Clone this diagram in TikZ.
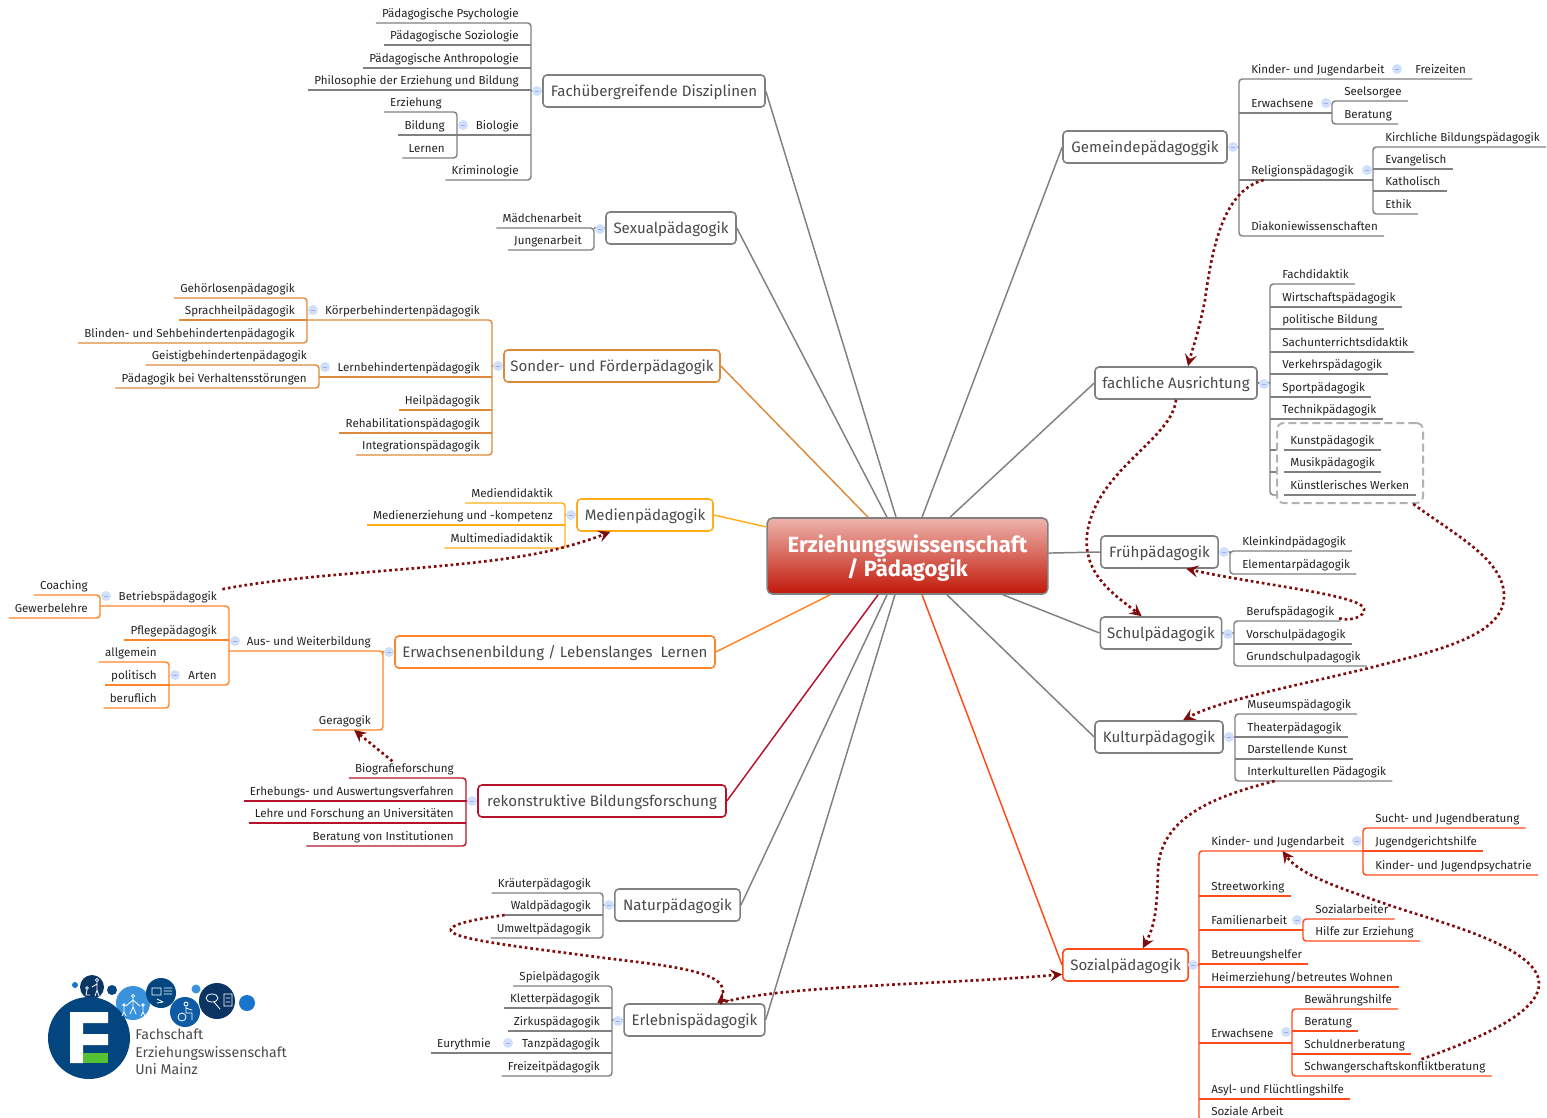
\documentclass[tikz,border=0pt]{standalone}
\usepackage{fontspec}
\setmainfont{Fira Sans}
\usetikzlibrary{arrows.meta}

\definecolor{stem}{HTML}{808080}
\definecolor{sonder}{HTML}{DC8A3C}
\definecolor{medien}{HTML}{FFAE1A}
\definecolor{erwachs}{HTML}{FF8427}
\definecolor{rekon}{HTML}{B5122B}
\definecolor{sozial}{HTML}{FF4A1A}
\definecolor{relat}{HTML}{7F0D0D}
\definecolor{inktopic}{HTML}{4A4A4A}
\definecolor{inkleaf}{HTML}{222222}
\definecolor{foldfill}{HTML}{CFE0FA}
\definecolor{roottop}{HTML}{EDB3AC}
\definecolor{rootbot}{HTML}{C21808}
\definecolor{fdark}{HTML}{03467F}
\definecolor{fnavy}{HTML}{0A3563}
\definecolor{fmid}{HTML}{0F5AA5}
\definecolor{fblue}{HTML}{1874CC}
\definecolor{flight}{HTML}{3B92DC}
\definecolor{fgreen}{HTML}{55C234}

\tikzset{
  topic/.style={draw=#1,rectangle,rounded corners=3pt,line width=1.2pt,fill=white,text=inktopic,
    font=\fontsize{11.3}{13}\selectfont,minimum height=24pt,inner xsep=1pt,text height=10pt,text depth=2.5pt},
  topic/.default=stem,
  lleaf/.style={anchor=south east,text=inkleaf,font=\fontsize{8.7}{10}\selectfont,
    inner xsep=4.5pt,inner ysep=2pt,text height=6.5pt,text depth=1.7pt},
  rleaf/.style={lleaf,anchor=south west},
  twig/.style={draw=#1,line width=1.1pt,rounded corners=2.5pt},
  twig/.default=stem,
  fold/.style={circle,fill=foldfill,minimum size=7.5pt,inner sep=0pt,
    path picture={\draw[blue!35!white,line width=.4pt] ([xshift=-1.6pt]path picture bounding box.center) -- ([xshift=1.6pt]path picture bounding box.center);}},
  limb/.style={draw=#1,line width=1.1pt},
  relation/.style={draw=relat,line width=2pt,dash pattern=on 2pt off 2.2pt,-{Stealth[length=9pt,width=9pt,inset=3.5pt]}},
  icon/.style={draw=white,line width=.6pt,line cap=round}
}

\begin{document}
\begin{tikzpicture}[x=.75pt,y=-.75pt]
\useasboundingbox (0,0) rectangle (1547,1118);

% centre
\node (root) at (907.5,556) [draw=stem,rectangle,rounded corners=4pt,line width=1.2pt,top color=roottop,bottom color=rootbot,
  text=white,font=\fontsize{16.5}{18}\selectfont\bfseries,align=center,minimum width=210.5pt,minimum height=57pt]{\rule{0pt}{16pt}Erziehungswissenschaft\\/ Pädagogik};

% topics, left
\node (fd) at (654,91) [topic,minimum width=166.5pt]{Fachübergreifende Disziplinen};
\node (sx) at (671,228) [topic,minimum width=97.5pt]{Sexualpädagogik};
\node (sf) at (612,366) [topic=sonder,minimum width=162pt]{Sonder- und Förderpädagogik};
\node (md) at (645,515) [topic=medien,minimum width=102pt]{Medienpädagogik};
\node (ew) at (555,652) [topic=erwachs,minimum width=240pt]{Erwachsenenbildung / Lebenslanges\ \ Lernen};
\node (rk) at (602,801) [topic=rekon,minimum width=186pt]{rekonstruktive Bildungsforschung};
\node (np) at (677.5,905) [topic,minimum width=94pt]{Naturpädagogik};
\node (ep) at (694.5,1020) [topic,minimum width=105.5pt]{Erlebnispädagogik};

% topics, right
\node (gp) at (1145,147) [topic,minimum width=123pt]{Gemeindepädagoggik};
\node (fa) at (1176,383) [topic,minimum width=121.5pt]{fachliche Ausrichtung};
\node (fp) at (1159.5,552) [topic,minimum width=88pt]{Frühpädagogik};
\node (sp) at (1161,633) [topic,minimum width=91pt]{Schulpädagogik};
\node (kp) at (1159,737) [topic,minimum width=96pt]{Kulturpädagogik};
\node (sz) at (1125.5,965) [topic=sozial,minimum width=94pt]{Sozialpädagogik};

% branches into the centre
\draw [limb=stem] (fd.east) -- ([xshift=-8.6pt]root.north);
\draw [limb=stem] (sx.east) -- ([xshift=-15.4pt]root.north);
\draw [limb=sonder] (sf.east) -- ([xshift=-29.6pt]root.north);
\draw [limb=medien] (md.east) -- ([yshift=21.8pt]root.west);
\draw [limb=erwachs] (ew.east) -- ([xshift=-58.1pt]root.south);
\draw [limb=rekon] (rk.east) -- ([xshift=-22.1pt]root.south);
\draw [limb=stem] (np.east) -- ([xshift=-15.4pt]root.south);
\draw [limb=stem] (ep.east) -- ([xshift=-9.4pt]root.south);
\draw [limb=stem] (gp.west) -- ([xshift=10.9pt]root.north);
\draw [limb=stem] (fa.west) -- ([xshift=31.9pt]root.north);
\draw [limb=stem] (fp.west) -- ([yshift=2.2pt]root.east);
\draw [limb=stem] (sp.west) -- ([xshift=71.6pt]root.south);
\draw [limb=stem] (kp.west) -- ([xshift=29.6pt]root.south);
\draw [limb=sozial] (sz.west) -- ([xshift=10.9pt]root.south);

% Fachuebergreifende Disziplinen
\coordinate (fdS) at (531,91);
\coordinate (biS) at (457,135);
\node (fd1) at (525,23) [lleaf]{Pädagogische Psychologie};
\node (fd2) at (525,45) [lleaf]{Pädagogische Soziologie};
\node (fd3) at (525,68) [lleaf]{Pädagogische Anthropologie};
\node (fd4) at (525,90) [lleaf]{Philosophie der Erziehung und Bildung};
\node (bi) at (525,135) [lleaf]{Biologie};
\node (fd6) at (525,180) [lleaf]{Kriminologie};
\node (bi1) at (448,112) [lleaf]{Erziehung};
\node (bi2) at (451,135) [lleaf]{Bildung};
\node (bi3) at (451,158) [lleaf]{Lernen};
\draw [twig] (fd1.south west) -- (fd1.south -| fdS) -- (fd6.south -| fdS) -- (fd6.south west);
\foreach \n in {fd2,fd3,fd4} \draw [twig] (\n.south west) -- (\n.south -| fdS);
\draw [twig] (biS) -- (bi.south -| fdS);
\draw [twig] (bi1.south west) -- (bi1.south -| biS) -- (bi3.south -| biS) -- (bi3.south west);
\draw [twig] (bi2.south west) -- (biS);
\draw [twig] (fd.west) -- (fd.west -| fdS);
\node (fdF) at (537,91) [fold]{};
\node (biF) at (463,125) [fold]{};

% Sexualpaedagogik
\coordinate (sxS) at (594,228);
\node (sx1) at (588,228) [lleaf]{Mädchenarbeit};
\node (sx2) at (588,250) [lleaf]{Jungenarbeit};
\draw [twig] (sx1.south west) -- (sx1.south -| sxS) -- (sx2.south -| sxS) -- (sx2.south west);
\draw [twig] (sx.west) -- (sx.west -| sxS);
\node (sxF) at (600,229) [fold]{};

% Sonder- und Foerderpaedagogik
\coordinate (sfS) at (492,366);
\coordinate (kbS) at (307,320);
\coordinate (lbS) at (319,377);
\node (kb) at (486,320) [lleaf]{Körperbehindertenpädagogik};
\node (lb) at (486,377) [lleaf]{Lernbehindertenpädagogik};
\node (sf3) at (486,410) [lleaf]{Heilpädagogik};
\node (sf4) at (486,433) [lleaf]{Rehabilitationspädagogik};
\node (sf5) at (486,455) [lleaf]{Integrationspädagogik};
\node (kb1) at (301,298) [lleaf]{Gehörlosenpädagogik};
\node (kb2) at (301,320) [lleaf]{Sprachheilpädagogik};
\node (kb3) at (301,343) [lleaf]{Blinden- und Sehbehindertenpädagogik};
\node (lb1) at (313,365) [lleaf]{Geistigbehindertenpädagogik};
\node (lb2) at (313,388) [lleaf]{Pädagogik bei Verhaltensstörungen};
\draw [twig=sonder] (kbS) -- (kb.south -| sfS) -- (sf5.south -| sfS) -- (sf5.south west);
\draw [twig=sonder] (lbS) -- (lb.south -| sfS);
\foreach \n in {sf3,sf4} \draw [twig=sonder] (\n.south west) -- (\n.south -| sfS);
\draw [twig=sonder] (kb1.south west) -- (kb1.south -| kbS) -- (kb3.south -| kbS) -- (kb3.south west);
\draw [twig=sonder] (kb2.south west) -- (kbS);
\draw [twig=sonder] (lb1.south west) -- (lb1.south -| lbS) -- (lb2.south -| lbS) -- (lb2.south west);
\draw [twig=sonder] (sf.west) -- (sf.west -| sfS);
\node (sfF) at (498,366) [fold]{};
\node (kbF) at (313,310) [fold]{};
\node (lbF) at (325,367) [fold]{};

% Medienpaedagogik
\coordinate (mdS) at (565,515);
\node (md1) at (559,503) [lleaf]{Mediendidaktik};
\node (md2) at (559,525) [lleaf]{Medienerziehung und -kompetenz};
\node (md3) at (559,548) [lleaf]{Multimediadidaktik};
\draw [twig=medien] (md1.south west) -- (md1.south -| mdS) -- (md3.south -| mdS) -- (md3.south west);
\draw [twig=medien] (md2.south west) -- (md2.south -| mdS);
\draw [twig=medien] (md.west) -- (md.west -| mdS);
\node (mdF) at (571,515) [fold]{};

% Erwachsenenbildung
\coordinate (ewS) at (383,652);
\coordinate (awS) at (229,651);
\coordinate (bpS) at (100,606);
\coordinate (arS) at (169,685);
\node (aw) at (377,651) [lleaf]{Aus- und Weiterbildung};
\node (ge) at (377,730) [lleaf]{Geragogik};
\node (bp) at (223,606) [lleaf]{Betriebspädagogik};
\node (pf) at (223,640) [lleaf]{Pflegepädagogik};
\node (ar) at (223,685) [lleaf]{Arten};
\node (bp1) at (94,595) [lleaf]{Coaching};
\node (bp2) at (94,618) [lleaf]{Gewerbelehre};
\node (ar1) at (163,662) [lleaf]{allgemein};
\node (ar2) at (163,685) [lleaf]{politisch};
\node (ar3) at (163,708) [lleaf]{beruflich};
\draw [twig=erwachs] (awS) -- (aw.south -| ewS) -- (ge.south -| ewS) -- (ge.south west);
\draw [twig=erwachs] (bpS) -- (bp.south -| awS) -- (ar.south -| awS) -- (arS);
\draw [twig=erwachs] (pf.south west) -- (pf.south -| awS);
\draw [twig=erwachs] (bp1.south west) -- (bp1.south -| bpS) -- (bp2.south -| bpS) -- (bp2.south west);
\draw [twig=erwachs] (ar1.south west) -- (ar1.south -| arS) -- (ar3.south -| arS) -- (ar3.south west);
\draw [twig=erwachs] (ar2.south west) -- (arS);
\draw [twig=erwachs] (ew.west) -- (ew.west -| ewS);
\node (ewF) at (389,652) [fold]{};
\node (awF) at (235,641) [fold]{};
\node (bpF) at (106,596) [fold]{};
\node (arF) at (175,675) [fold]{};

% rekonstruktive Bildungsforschung
\coordinate (rkS) at (466,801);
\node (rk1) at (460,778) [lleaf]{Biografieforschung};
\node (rk2) at (460,801) [lleaf]{Erhebungs- und Auswertungsverfahren};
\node (rk3) at (460,823) [lleaf]{Lehre und Forschung an Universitäten};
\node (rk4) at (460,846) [lleaf]{Beratung von Institutionen};
\draw [twig=rekon] (rk1.south west) -- (rk1.south -| rkS) -- (rk4.south -| rkS) -- (rk4.south west);
\foreach \n in {rk2,rk3} \draw [twig=rekon] (\n.south west) -- (\n.south -| rkS);
\draw [twig=rekon] (rk.west) -- (rk.west -| rkS);
\node (rkF) at (472,801) [fold]{};

% Naturpaedagogik
\coordinate (npS) at (603,905);
\node (np1) at (597,893) [lleaf]{Kräuterpädagogik};
\node (np2) at (597,915) [lleaf]{Waldpädagogik};
\node (np3) at (597,938) [lleaf]{Umweltpädagogik};
\draw [twig] (np1.south west) -- (np1.south -| npS) -- (np3.south -| npS) -- (np3.south west);
\draw [twig] (np2.south west) -- (np2.south -| npS);
\draw [twig] (np.west) -- (np.west -| npS);
\node (npF) at (609,905) [fold]{};

% Erlebnispaedagogik
\coordinate (epS) at (612,1020);
\node (ep1) at (606,986) [lleaf]{Spielpädagogik};
\node (ep2) at (606,1008) [lleaf]{Kletterpädagogik};
\node (ep3) at (606,1031) [lleaf]{Zirkuspädagogik};
\node (ep4) at (606,1053) [lleaf]{Tanzpädagogik};
\node (ep5) at (606,1076) [lleaf]{Freizeitpädagogik};
\node (ep6) at (497,1053) [lleaf]{Eurythmie};
\draw [twig] (ep1.south west) -- (ep1.south -| epS) -- (ep5.south -| epS) -- (ep5.south west);
\foreach \n in {ep2,ep3} \draw [twig] (\n.south west) -- (\n.south -| epS);
\draw [twig] (ep6.south west) -- (ep4.south -| epS);
\draw [twig] (ep.west) -- (ep.west -| epS);
\node (epF) at (618,1021) [fold]{};
\node (e4F) at (508,1043) [fold]{};

% Gemeindepaedagoggik
\coordinate (gpS) at (1239,147);
\coordinate (ewaS) at (1332,113);
\coordinate (rpS) at (1373,180);
\node (gp1) at (1245,79) [rleaf]{Kinder- und Jugendarbeit};
\node (gp2) at (1409,79) [rleaf]{Freizeiten};
\node (ewa) at (1245,113) [rleaf]{Erwachsene};
\node (rp) at (1245,180) [rleaf]{Religionspädagogik};
\node (gp5) at (1245,236) [rleaf]{Diakoniewissenschaften};
\node (ewa1) at (1338,101) [rleaf]{Seelsorgee};
\node (ewa2) at (1338,124) [rleaf]{Beratung};
\node (rp1) at (1379,147) [rleaf]{Kirchliche Bildungspädagogik};
\node (rp2) at (1379,169) [rleaf]{Evangelisch};
\node (rp3) at (1379,191) [rleaf]{Katholisch};
\node (rp4) at (1379,214) [rleaf]{Ethik};
\draw [twig] (gp2.south east) -- (gp1.south -| gpS) -- (gp5.south -| gpS) -- (gp5.south east);
\draw [twig] (ewa.south -| gpS) -- (ewaS);
\draw [twig] (rp.south -| gpS) -- (rpS);
\draw [twig] (ewa1.south east) -- (ewa1.south -| ewaS) -- (ewa2.south -| ewaS) -- (ewa2.south east);
\draw [twig] (rp1.south east) -- (rp1.south -| rpS) -- (rp4.south -| rpS) -- (rp4.south east);
\foreach \n in {rp2,rp3} \draw [twig] (\n.south -| rpS) -- (\n.south east);
\draw [twig] (gp.east) -- (gp.east -| gpS);
\node (gpF) at (1233,147) [fold]{};
\node (g1F) at (1397,69) [fold]{};
\node (ewaF) at (1326,103) [fold]{};
\node (rpF) at (1367,170) [fold]{};

% fachliche Ausrichtung
\coordinate (faS) at (1270,383);
\node (fa1) at (1276,284) [rleaf]{Fachdidaktik};
\node (fa2) at (1276,307) [rleaf]{Wirtschaftspädagogik};
\node (fa3) at (1276,329) [rleaf]{politische Bildung};
\node (fa4) at (1276,352) [rleaf]{Sachunterrichtsdidaktik};
\node (fa5) at (1276,374) [rleaf]{Verkehrspädagogik};
\node (fa6) at (1276,397) [rleaf]{Sportpädagogik};
\node (fa7) at (1276,419) [rleaf]{Technikpädagogik};
\node (fa8) at (1284,450) [rleaf]{Kunstpädagogik};
\node (fa9) at (1284,472) [rleaf]{Musikpädagogik};
\node (fa10) at (1284,495) [rleaf]{Künstlerisches Werken};
\node (kgrp) at (1350,463) [draw=gray!60,dash pattern=on 6pt off 3pt,line width=1.5pt,rectangle,rounded corners=5pt,minimum width=109.5pt,minimum height=60pt]{};
\draw [twig] (fa1.south east) -- (fa1.south -| faS) -- (fa10.south -| faS) -- (fa10.south -| kgrp.west);
\foreach \n in {fa2,fa3,fa4,fa5,fa6,fa7} \draw [twig] (\n.south -| faS) -- (\n.south east);
\foreach \n in {fa8,fa9} \draw [twig] (\n.south -| faS) -- (\n.south -| kgrp.west);
\foreach \n in {fa8,fa9,fa10} \draw [twig] (\n.south west) -- (\n.south east);
\draw [twig] (fa.east) -- (fa.east -| faS);
\node (faF) at (1264,384) [fold]{};

% Fruehpaedagogik
\coordinate (fpS) at (1230,552);
\node (fp1) at (1236,551) [rleaf]{Kleinkindpädagogik};
\node (fp2) at (1236,574) [rleaf]{Elementarpädagogik};
\draw [twig] (fp1.south east) -- (fp1.south -| fpS) -- (fp2.south -| fpS) -- (fp2.south east);
\draw [twig] (fp.east) -- (fp.east -| fpS);
\node (fpF) at (1224,552) [fold]{};

% Schulpaedagogik
\coordinate (spS) at (1234,633);
\node (sp1) at (1240,621) [rleaf]{Berufspädagogik};
\node (sp2) at (1240,644) [rleaf]{Vorschulpädagogik};
\node (sp3) at (1240,666) [rleaf]{Grundschulpadagogik};
\draw [twig] (sp1.south east) -- (sp1.south -| spS) -- (sp3.south -| spS) -- (sp3.south east);
\draw [twig] (sp2.south -| spS) -- (sp2.south east);
\draw [twig] (sp.east) -- (sp.east -| spS);
\node (spF) at (1228,634) [fold]{};

% Kulturpaedagogik
\coordinate (kpS) at (1235,737);
\node (kp1) at (1241,714) [rleaf]{Museumspädagogik};
\node (kp2) at (1241,737) [rleaf]{Theaterpädagogik};
\node (kp3) at (1241,759) [rleaf]{Darstellende Kunst};
\node (kp4) at (1241,781) [rleaf]{Interkulturellen Pädagogik};
\draw [twig] (kp1.south east) -- (kp1.south -| kpS) -- (kp4.south -| kpS) -- (kp4.south east);
\foreach \n in {kp2,kp3} \draw [twig] (\n.south -| kpS) -- (\n.south east);
\draw [twig] (kp.east) -- (kp.east -| kpS);
\node (kpF) at (1229,737) [fold]{};

% Sozialpaedagogik
\coordinate (szS) at (1199,965);
\coordinate (kjS) at (1363,851);
\coordinate (faaS) at (1303,930);
\coordinate (szeS) at (1292,1043);
\node (kj) at (1205,851) [rleaf]{Kinder- und Jugendarbeit};
\node (sz2) at (1205,896) [rleaf]{Streetworking};
\node (faa) at (1205,930) [rleaf]{Familienarbeit};
\node (sz4) at (1205,964) [rleaf]{Betreuungshelfer};
\node (sz5) at (1205,987) [rleaf]{Heimerziehung/betreutes Wohnen};
\node (sze) at (1205,1043) [rleaf]{Erwachsene};
\node (sz7) at (1205,1099) [rleaf]{Asyl- und Flüchtlingshilfe};
\node (sz8) at (1205,1121) [rleaf]{Soziale Arbeit};
\node (kj1) at (1369,828) [rleaf]{Sucht- und Jugendberatung};
\node (kj2) at (1369,851) [rleaf]{Jugendgerichtshilfe};
\node (kj3) at (1369,875) [rleaf]{Kinder- und Jugendpsychatrie};
\node (faa1) at (1309,919) [rleaf]{Sozialarbeiter};
\node (faa2) at (1309,941) [rleaf]{Hilfe zur Erziehung};
\node (sze1) at (1298,1009) [rleaf]{Bewährungshilfe};
\node (sze2) at (1298,1031) [rleaf]{Beratung};
\node (sze3) at (1298,1054) [rleaf]{Schuldnerberatung};
\node (sze4) at (1298,1076) [rleaf]{Schwangerschaftskonfliktberatung};
\draw [twig=sozial] (kjS) -- (kj.south -| szS) -- (sz8.south -| szS) -- (sz8.south east);
\foreach \n in {sz2,sz4,sz5,sz7} \draw [twig=sozial] (\n.south -| szS) -- (\n.south east);
\draw [twig=sozial] (faa.south -| szS) -- (faaS);
\draw [twig=sozial] (sze.south -| szS) -- (szeS);
\draw [twig=sozial] (kj1.south east) -- (kj1.south -| kjS) -- (kj3.south -| kjS) -- (kj3.south east);
\draw [twig=sozial] (kj2.south -| kjS) -- (kj2.south east);
\draw [twig=sozial] (faa1.south east) -- (faa1.south -| faaS) -- (faa2.south -| faaS) -- (faa2.south east);
\draw [twig=sozial] (sze1.south east) -- (sze1.south -| szeS) -- (sze4.south -| szeS) -- (sze4.south east);
\foreach \n in {sze2,sze3} \draw [twig=sozial] (\n.south -| szeS) -- (\n.south east);
\draw [twig=sozial] (sz.east) -- (sz.east -| szS);
\node (szF) at (1193,965) [fold]{};
\node (kjF) at (1357,841) [fold]{};
\node (faaF) at (1297,920) [fold]{};
\node (szeF) at (1286,1032) [fold]{};

% relations
\draw [relation] ([xshift=-29pt]rp.south) .. controls +(-38,10) and (1213,240) .. (1205,300) .. controls (1198,335) and (1192,350) .. ([xshift=9pt]fa.north);
\draw [relation] (fa.south) .. controls (1172,440) and (1095,470) .. (1087,535) .. controls (1083,575) and (1115,595) .. ([xshift=-14.5pt]sp.north);
\draw [relation] ([xshift=-1pt,yshift=2pt]sp1.south east) .. controls (1350,622) and (1366,616) .. (1364,609) .. controls (1362,595) and (1260,585) .. ([xshift=20pt]fp.south);
\draw [relation] ([xshift=47.5pt]kgrp.south) .. controls (1455,535) and (1505,560) .. (1504,597) .. controls (1503,635) and (1440,650) .. (1373,667) .. controls (1300,685) and (1220,700) .. ([xshift=18pt]kp.north);
\draw [relation] ([xshift=-31.5pt]kp4.south) .. controls (1220,795) and (1160,815) .. (1158,870) .. controls (1157,910) and (1155,925) .. ([xshift=13pt]sz.north);
\draw [relation] ([xshift=41pt]bp.north) .. controls (320,570) and (480,570) .. (561,548) .. controls (580,543) and (595,538) .. ([xshift=-26pt]md.south);
\draw [relation] ([xshift=-9pt]rk1.north) -- ([xshift=7pt]ge.south);
\draw [relation] (np2.south west) .. controls (470,920) and (448,925) .. (451,931) .. controls (456,940) and (530,948) .. (597,957) .. controls (660,965) and (725,970) .. (723,992) .. controls (722,997) and (720,1001) .. ([xshift=17pt]ep.north);
\draw [relation] ([xshift=19pt]ep.north) .. controls (780,985) and (940,985) .. ([yshift=-7pt]sz.west);
\draw [relation] ([xshift=20pt]sze4.north) .. controls (1490,1035) and (1540,1010) .. (1539,983) .. controls (1538,945) and (1430,920) .. (1383,903) .. controls (1340,888) and (1300,875) .. ([xshift=3.5pt]kj.south);

% logo
\fill [fnavy] (92,987) circle [radius=12];
\fill [fblue] (75,985) circle [radius=3];
\fill [fdark] (112,990) circle [radius=5];
\fill [flight] (133,1003) circle [radius=17];
\fill [fdark] (161,993) circle [radius=15];
\fill [flight] (196,989) circle [radius=4.5];
\fill [fmid] (185,1012) circle [radius=15];
\fill [fnavy] (217,1001) circle [radius=18];
\fill [fblue] (247,1003) circle [radius=8];
\fill [fdark] (89,1038) circle [radius=41];
\fill [white] (70,1012) -- (108,1012) -- (108,1023) -- (83,1023) -- (83,1034) -- (108,1034) -- (108,1045) -- (83,1045) -- (83,1063) -- (70,1063) -- cycle;
\fill [fgreen] (83,1053) rectangle (108,1063);
% little figures in the logo
\draw [icon] (97,980) circle [radius=1.6] (97,982) -- (97,990) -- (95,996) (97,990) -- (99,996) (97,984) -- (92,987);
\draw [icon] (87,988) circle [radius=1.4] (87,990) -- (86,995) -- (90,995);
\draw [icon] (133,996) circle [radius=1.6] (133,998) -- (133,1007) -- (130,1014) (133,1007) -- (136,1014) (133,1000) -- (126,1006) (133,1000) -- (140,1006);
\draw [icon] (124,1005) circle [radius=1.3] (124,1007) -- (124,1012) -- (122,1016) (124,1012) -- (126,1016);
\draw [icon] (143,1005) circle [radius=1.3] (143,1007) -- (143,1012) -- (141,1016) (143,1012) -- (145,1016);
\draw [icon] (152,988) rectangle (161,995) (164,988) -- (172,988) (164,991) -- (172,991) (164,994) -- (172,994) (157,999) -- (163,1002) (157,1003) -- (163,1002);
\draw [icon] (186,1004) circle [radius=2] (186,1006) -- (186,1013) -- (192,1013) -- (192,1020) (186,1008) -- (192,1010);
\draw [icon] (182,1017) circle [radius=4];
\draw [icon] (212,998) ellipse [x radius=6,y radius=4] (214,1002) -- (220,1009) (224,994) rectangle (232,1006) (226,998) -- (230,998) (226,1002) -- (230,1002);
\node (lg) at (135,1052) [anchor=west,align=left,text=inktopic,inner sep=0pt,font=\fontsize{10.6}{13.2}\selectfont]{Fachschaft\\Erziehungswissenschaft\\Uni Mainz};
\end{tikzpicture}
\end{document}
